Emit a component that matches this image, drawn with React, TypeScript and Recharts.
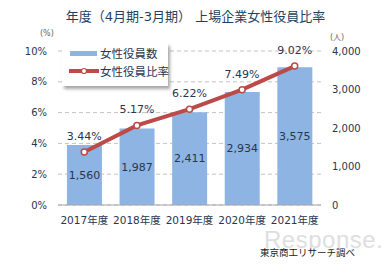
import React from 'react';
import { ComposedChart, Bar, Line, XAxis, YAxis, CartesianGrid, LabelList } from 'recharts';

const categories = ['2017年度', '2018年度', '2019年度', '2020年度', '2021年度'];
const officerCounts = [1560, 1987, 2411, 2934, 3575];
const officerRatios = [3.44, 5.17, 6.22, 7.49, 9.02];
const leftTicks = [0, 2, 4, 6, 8, 10];
const rightTicks = [0, 1000, 2000, 3000, 4000];

const title = '年度（4月期-3月期） 上場企業女性役員比率';
const barName = '女性役員数';
const lineName = '女性役員比率';
const source = '東京商工リサーチ調べ';

const data = categories.map((c, i) => ({ name: c, count: officerCounts[i], ratio: officerRatios[i] }));

const FONT = '"DejaVu Sans", "Noto Sans CJK JP", sans-serif';
const BAR = '#8db4e2';
const LINE = '#bc4a48';
const TEXT = '#2a3550';

export default function App() {
  return (
    <div style={{ position: 'fixed', left: 0, top: 0, width: 391, height: 265, background: '#fff', fontFamily: FONT }}>
      <div style={{ position: 'absolute', left: 0, top: 6, width: 391, textAlign: 'center', fontSize: 13, color: '#23415f', whiteSpace: 'nowrap' }}>
        {title}
      </div>
      <div style={{ position: 'absolute', left: 40, top: 29, fontSize: 8, color: '#666' }}>(%)</div>
      <div style={{ position: 'absolute', left: 330, top: 31, fontSize: 8, color: '#666' }}>(人)</div>
      <div style={{ position: 'absolute', left: 264, top: 226, fontSize: 24, color: '#dedede', fontFamily: '"Liberation Sans", Arial, sans-serif', letterSpacing: 0.5 }}>
        Response.
      </div>
      <ComposedChart
        width={391}
        height={265}
        data={data}
        margin={{ top: 51, right: 0, bottom: 40, left: 0 }}
        barCategoryGap="17%"
        style={{ position: 'absolute', left: 0, top: 0 }}
      >
        <CartesianGrid yAxisId="left" vertical={false} stroke="#c4c4c4" strokeDasharray="4 3" />
        <XAxis
          dataKey="name"
          tickLine={false}
          axisLine={{ stroke: '#a6a6a6' }}
          tickMargin={6}
          height={20}
          interval={0}
          tick={{ fontSize: 10.5, fill: TEXT, fontFamily: FONT }}
        />
        <YAxis
          yAxisId="left"
          orientation="left"
          width={58}
          domain={[0, 10]}
          ticks={leftTicks}
          tickFormatter={(v: number) => `${v}%`}
          axisLine={false}
          tickLine={false}
          tickSize={0}
          tickMargin={11}
          tick={{ fontSize: 10, fill: TEXT, fontFamily: FONT }}
        />
        <YAxis
          yAxisId="right"
          orientation="right"
          width={70}
          domain={[0, 4000]}
          ticks={rightTicks}
          tickFormatter={(v: number) => v.toLocaleString('en-US')}
          axisLine={false}
          tickLine={false}
          tickSize={0}
          tickMargin={11}
          tick={{ fontSize: 10, fill: TEXT, fontFamily: FONT, textAnchor: 'start' }}
        />
        <Bar yAxisId="right" dataKey="count" name={barName} fill={BAR} isAnimationActive={false}>
          <LabelList
            dataKey="count"
            position="center"
            formatter={(v: number) => v.toLocaleString('en-US')}
            style={{ fontSize: 11, fill: TEXT, fontFamily: FONT }}
          />
        </Bar>
        <Line
          yAxisId="left"
          dataKey="ratio"
          name={lineName}
          stroke={LINE}
          strokeWidth={4}
          dot={{ r: 3, fill: '#fff', stroke: LINE, strokeWidth: 1.5 }}
          activeDot={false}
          isAnimationActive={false}
        >
          <LabelList
            dataKey="ratio"
            position="top"
            offset={12}
            formatter={(v: number) => `${v.toFixed(2)}%`}
            style={{ fontSize: 11, fill: TEXT, fontFamily: FONT }}
          />
        </Line>
      </ComposedChart>
      <div
        style={{
          position: 'absolute', left: 62, top: 43, width: 106, height: 43, background: '#fff',
          boxShadow: '2px 3px 3px rgba(0,0,0,0.35)', fontSize: 11.5, color: TEXT,
        }}
      >
        <div style={{ position: 'absolute', left: 8, top: 8, width: 27, height: 5, background: BAR }} />
        <div style={{ position: 'absolute', left: 38, top: 2, whiteSpace: 'nowrap' }}>{barName}</div>
        <svg style={{ position: 'absolute', left: 6, top: 23 }} width={32} height={10}>
          <line x1={1} y1={5} x2={31} y2={5} stroke={LINE} strokeWidth={4} />
          <circle cx={16} cy={5} r={2.5} fill="#fff" stroke={LINE} strokeWidth={1.2} />
        </svg>
        <div style={{ position: 'absolute', left: 38, top: 20, whiteSpace: 'nowrap' }}>{lineName}</div>
      </div>
      <div style={{ position: 'absolute', left: 260, top: 245, fontSize: 9.5, color: '#222', whiteSpace: 'nowrap' }}>
        {source}
      </div>
    </div>
  );
}
